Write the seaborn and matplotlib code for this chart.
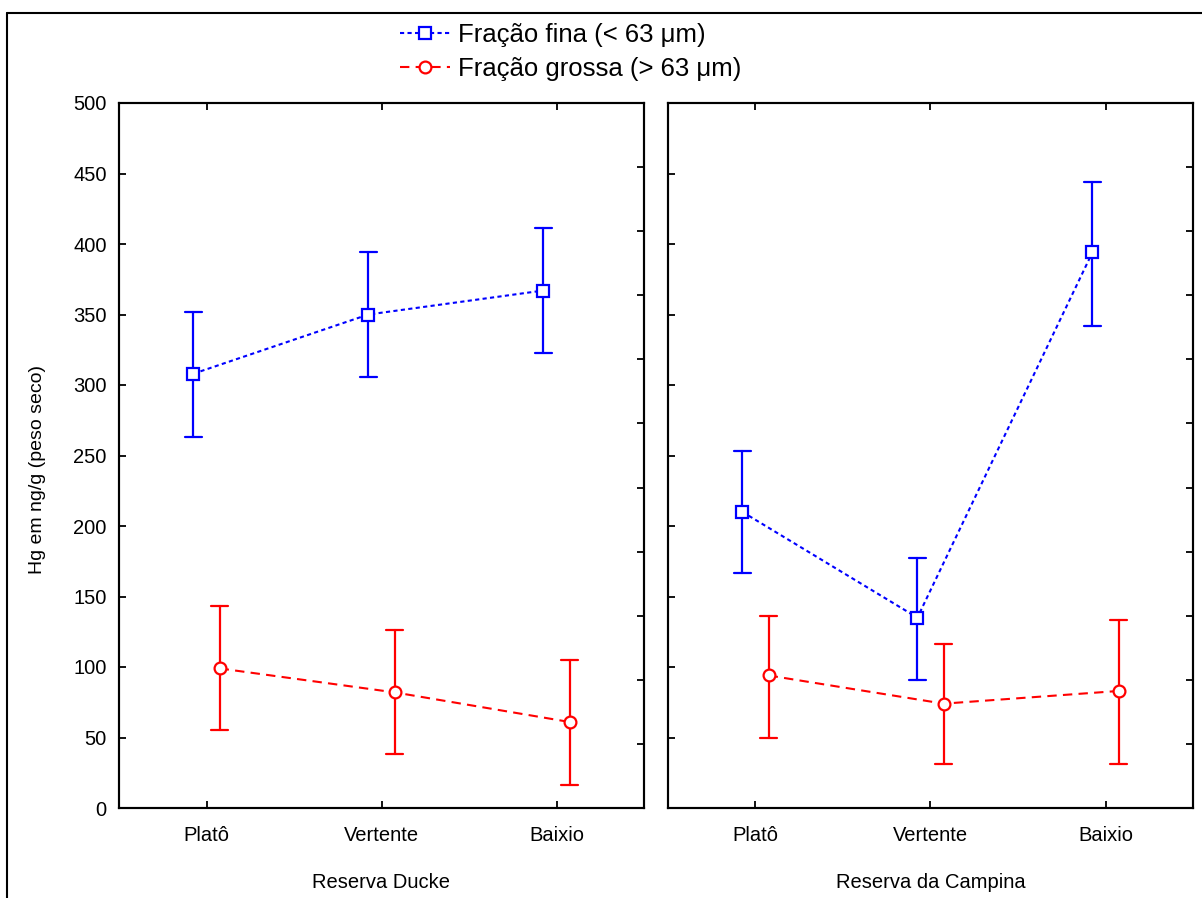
import numpy as np
import pandas as pd
import matplotlib
matplotlib.use("Agg")
import matplotlib.pyplot as plt
from matplotlib.lines import Line2D
import seaborn as sns

# ---- data -------------------------------------------------------------
sites = ["Platô", "Vertente", "Baixio"]
reserves = ["Reserva Ducke", "Reserva da Campina"]
fractions = ["Fração fina (< 63 μm)", "Fração grossa (> 63 μm)"]

# Hg (ng/g, dry weight): mean with lower / upper interval limits
ducke_fina = [308, 350, 367]
ducke_fina_lo = [263, 306, 323]
ducke_fina_hi = [352, 394, 411]
ducke_grossa = [99, 82, 61]
ducke_grossa_lo = [55, 38, 16]
ducke_grossa_hi = [143, 126, 105]

campina_fina = [210, 135, 394]
campina_fina_lo = [167, 91, 342]
campina_fina_hi = [253, 177, 444]
campina_grossa = [94, 74, 83]
campina_grossa_lo = [50, 31, 31]
campina_grossa_hi = [136, 116, 133]

y_ticks = [0, 50, 100, 150, 200, 250, 300, 350, 400, 450, 500]

series = {
    (reserves[0], fractions[0]): (ducke_fina, ducke_fina_lo, ducke_fina_hi),
    (reserves[0], fractions[1]): (ducke_grossa, ducke_grossa_lo, ducke_grossa_hi),
    (reserves[1], fractions[0]): (campina_fina, campina_fina_lo, campina_fina_hi),
    (reserves[1], fractions[1]): (campina_grossa, campina_grossa_lo, campina_grossa_hi),
}

# long table: each point stored as (lower, mean, upper); the median gives the
# mean and the min/max span gives the interval
rows = []
for (res, frac), (mean, lo, hi) in series.items():
    for site, m, l, h in zip(sites, mean, lo, hi):
        for v in (l, m, h):
            rows.append({"reserva": res, "fracao": frac, "local": site, "Hg": v})
df = pd.DataFrame(rows)

# ---- style ------------------------------------------------------------
sns.set_theme(style="ticks")
plt.rcParams["font.family"] = ["Liberation Sans", "DejaVu Sans"]
plt.rcParams["axes.linewidth"] = 1.5
plt.rcParams["text.color"] = "black"
plt.rcParams["axes.labelcolor"] = "black"
plt.rcParams["xtick.color"] = "black"
plt.rcParams["ytick.color"] = "black"

blue = "#0000ff"
red = "#ff0000"
palette = {fractions[0]: blue, fractions[1]: red}
markers = ["s", "o"]
linestyles = [(0, (2, 1.6)), (0, (4.5, 3))]

fig = plt.figure(figsize=(12.02, 8.98), dpi=100)
ax_w = 525 / 1202
ax_h = 705 / 898
ax_b = 1 - 808 / 898
axes = [
    fig.add_axes([119 / 1202, ax_b, ax_w, ax_h]),
    fig.add_axes([668 / 1202, ax_b, ax_w, ax_h]),
]

for i, (ax, res) in enumerate(zip(axes, reserves)):
    sub = df[df["reserva"] == res]
    sns.pointplot(
        data=sub, x="local", y="Hg", hue="fracao",
        order=sites, hue_order=fractions, palette=palette,
        estimator="median", errorbar=lambda v: (v.min(), v.max()),
        markers=markers, linestyles=linestyles,
        dodge=0.15, capsize=0.1,
        err_kws={"linewidth": 1.6, "linestyle": "-", "zorder": 2},
        linewidth=1.5, markersize=8.5, markeredgewidth=1.6,
        markerfacecolor="white", zorder=3,
        legend=False, ax=ax,
    )
    ax.set_xlim(-0.5, 2.5)
    ax.set_ylim(0, 500)
    ax.set_yticks(y_ticks)
    ax.set_ylabel("")
    ax.set_xlabel(res, fontsize=14.5, color="black")
    ax.xaxis.set_label_coords(0.5, -0.106)
    ax.xaxis.label.set_va("center")
    for s in ax.spines.values():
        s.set_visible(True)
        s.set_linewidth(1.5)
        s.set_color("black")
    ax.tick_params(axis="both", direction="in", length=5, width=1.3,
                   top=True, right=False, labelsize=14.5, colors="black")
    ax.tick_params(axis="x", pad=13)
    ax.tick_params(axis="y", pad=9)
    if i == 1:
        ax.tick_params(axis="y", labelleft=False)

    # secondary scale on the right edge: eleven equal divisions
    tw = ax.twinx()
    tw.set_ylim(0, 11)
    tw.set_yticks(np.arange(12))
    tw.tick_params(axis="y", direction="in", length=5, width=1.3,
                   labelright=False, colors="black")
    for s in tw.spines.values():
        s.set_linewidth(1.5)
        s.set_color("black")

fig.text(38 / 1202, 1 - 470 / 898, "Hg em ng/g (peso seco)",
         rotation=90, ha="center", va="center", fontsize=14, color="black")

handles = [
    Line2D([], [], color=blue, linestyle=linestyles[0], linewidth=1.5,
           marker="s", markersize=8.5, markeredgewidth=1.6,
           markerfacecolor="white"),
    Line2D([], [], color=red, linestyle=linestyles[1], linewidth=1.5,
           marker="o", markersize=8.5, markeredgewidth=1.6,
           markerfacecolor="white"),
]
fig.legend(handles, fractions, loc="upper left",
           bbox_to_anchor=(400 / 1202, 1 - 23 / 898),
           frameon=False, fontsize=18.5, handlelength=1.95,
           handletextpad=0.3, labelspacing=0.4, labelcolor="black",
           borderpad=0, borderaxespad=0)

# outer frame lines (top and left)
fig.add_artist(Line2D([7 / 1202, 1], [1 - 13 / 898, 1 - 13 / 898],
                      transform=fig.transFigure, color="black", linewidth=1.5))
fig.add_artist(Line2D([7 / 1202, 7 / 1202], [0, 1 - 13 / 898],
                      transform=fig.transFigure, color="black", linewidth=1.5))

fig.savefig("out.png", dpi=100, facecolor="white")
